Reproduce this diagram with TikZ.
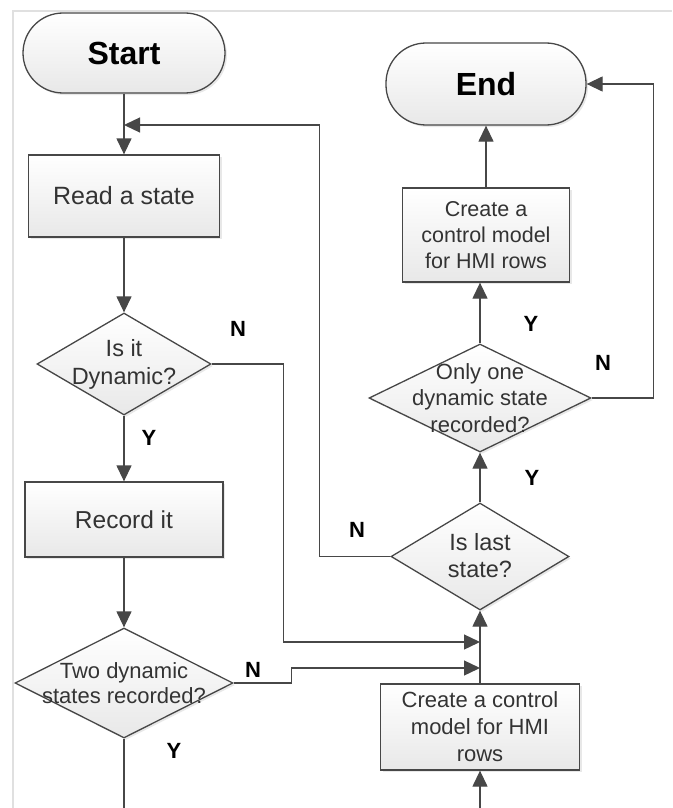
\documentclass[tikz,border=0pt]{standalone}
\usepackage{fontspec}
\setmainfont{Liberation Sans}
\usetikzlibrary{arrows.meta,shadows,shapes.geometric}

\tikzset{
    flow/.style={draw=black!72, line width=1.3pt},
    shade/.style={top color=white, bottom color=black!9,
        drop shadow={shadow xshift=2pt, shadow yshift=-2pt, opacity=.18}},
    box/.style={flow, shade, rectangle, inner sep=0pt, align=center,
        text=black!80, font=\fontsize{22}{26.5}\selectfont},
    term/.style={box, rounded corners=40pt, text=black,
        font=\fontsize{32}{36}\selectfont\bfseries},
    dec/.style={flow, shade, diamond, inner sep=0pt},
    txt/.style={align=center, text=black!80, font=\fontsize{22}{26.5}\selectfont},
    yn/.style={font=\fontsize{22}{26}\selectfont\bfseries},
    go/.style={flow, -{Triangle[length=16pt, width=15pt]}}
}

\begin{document}
\begin{tikzpicture}[x=1pt, y=-1pt]
    \useasboundingbox (0, 0) rectangle (672, 808);

    %%frame
    \draw[black!12, line width=2pt](13, 808) to (13, 11.5) to (672, 11.5);

    %%left column
    \node[term, minimum width=202pt, minimum height=80pt] (start) at (124, 53){Start};
    \node[box, minimum width=191pt, minimum height=82pt,
        font=\fontsize{25}{30}\selectfont] (read) at (124, 196){Read a state};
    \node[dec, minimum width=174pt, minimum height=102pt] (dyn) at (124, 364){};
        \node[txt, font=\fontsize{23.5}{28}\selectfont] (dyntxt) at (dyn){Is it\\Dynamic?};
    \node[box, minimum width=198pt, minimum height=75pt,
        font=\fontsize{24.5}{29}\selectfont] (rec) at (124, 519.5){Record it};
    \node[dec, minimum width=218pt, minimum height=110pt] (two) at (124, 683){};
        \node[txt, font=\fontsize{22}{25}\selectfont] (twotxt) at (two){Two dynamic\\states recorded?};

    %%right column
    \node[term, minimum width=200pt, minimum height=82pt] (end) at (486, 84){End};
    \node[box, minimum width=167pt, minimum height=94pt,
        font=\fontsize{21.5}{26}\selectfont] (hmi) at (486, 235){Create a\\control model\\for HMI rows};
    \node[dec, minimum width=222pt, minimum height=108pt] (only) at (480, 398){};
        \node[txt, font=\fontsize{22}{26.5}\selectfont] (onlytxt) at (only){Only one\\dynamic state\\recorded?};
    \node[dec, minimum width=178pt, minimum height=107pt] (last) at (480, 556.5){};
        \node[txt, font=\fontsize{23.5}{27}\selectfont] (lasttxt) at ([yshift=1pt]last){Is last\\state?};
    \node[box, minimum width=199pt, minimum height=86pt,
        font=\fontsize{22}{27}\selectfont] (ctrl) at (480, 727){Create a control\\model for HMI\\rows};

    %%free ends
    \coordinate (back) at (124, 125);
    \coordinate (j1) at (480, 642);
    \coordinate (j2) at (480, 668);
    \coordinate (lout) at (124, 808);
    \coordinate (rin) at (480, 808);

    %%left flow
    \draw[go](start) to (read);
    \draw[go](read) to (dyn);
    \draw[go](dyn) to (rec);
        \node[yn] (y1) at (149, 438){Y};
    \draw[go](rec) to (two);
    \draw[flow](two.south) to (lout);
        \node[yn] (y2) at (174, 751){Y};
    \draw[go](dyn.east) -- ++(72, 0) |- (j1);
        \node[yn] (n1) at (238, 329){N};
    \draw[go](two.east) -- ++(58, 0) |- (j2);
        \node[yn] (n2) at (253, 670){N};

    %%right flow
    \draw[go](rin) to (ctrl);
    \draw[go](ctrl) to (last);
    \draw[go](last) to (only);
        \node[yn] (y3) at (532, 478){Y};
    \draw[go](last.west) -- ++(-71, 0) |- (back);
        \node[yn] (n3) at (357, 530){N};
    \draw[go](only.north) to (only.north |- hmi.south);
        \node[yn] (y4) at (531, 324){Y};
    \draw[go](only.east) -- ++(62, 0) |- (end.east);
        \node[yn] (n4) at (603, 363){N};
    \draw[go](hmi) to (end);

\end{tikzpicture}
\end{document}
